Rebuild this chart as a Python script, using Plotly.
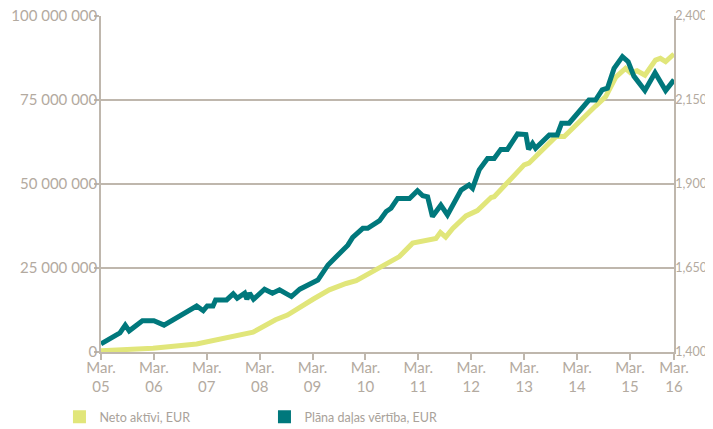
import plotly.graph_objects as go

# x = months since March 2005
plan_months = [0, 4.3, 5.5, 6.4, 9.4, 12, 14.3, 21.7, 23.2, 24.1, 25.4, 26, 28.5, 30, 30.9, 32.6, 33.1,
               33.7, 34.6, 37.1, 38.9, 40.5, 43.2, 45.1, 49.2, 51.5, 56, 57.1, 59.4, 60.5, 63.2, 64.7,
               65.8, 67.3, 70, 71.8, 73, 74.1, 75.2, 77.1, 78.6, 81.7, 83.5, 84.3, 85.8, 87.7, 89.2,
               90.7, 92.2, 94.5, 96.4, 97, 97.9, 98.6, 101.7, 103.5, 104.5, 106.2, 110.7, 112.2, 113.7,
               114.9, 116.4, 118.3, 119.6, 120.9, 123.4, 125.7, 128.1, 130]
plan_value = [1424, 1457, 1480, 1463, 1493, 1493, 1480, 1537, 1523, 1537, 1537, 1555, 1555, 1573, 1560,
              1575, 1557, 1575, 1557, 1587, 1575, 1585, 1565, 1587, 1614, 1659, 1718, 1741, 1768, 1768,
              1791, 1818, 1828, 1857, 1857, 1880, 1865, 1862, 1803, 1837, 1808, 1882, 1897, 1887, 1942,
              1976, 1976, 2003, 2003, 2049, 2047, 2003, 2021, 2006, 2046, 2046, 2081, 2081, 2150, 2150,
              2180, 2185, 2244, 2279, 2264, 2221, 2178, 2231, 2178, 2210]

net_months = [0, 11.8, 21.7, 26.2, 34.5, 39.6, 42.3, 48.1, 51.8, 55.6, 57.9, 67.7, 70.7, 76, 77, 78.2,
              79.8, 82.8, 85.4, 88.5, 89.2, 96, 97.1, 103.2, 105.1, 112.2, 114.5, 116.8, 119, 120.1,
              121.6, 123.4, 125.8, 126.9, 128.1, 130]
net_assets = [0.4, 1.1, 2.4, 3.6, 5.9, 9.6, 11.0, 15.7, 18.5, 20.4, 21.2, 28.4, 32.4, 33.8, 35.6, 34.2,
              36.8, 40.5, 42.1, 46.0, 46.2, 55.7, 56.2, 64.1, 64.1, 73.2, 76.0, 81.8, 84.4, 83.1, 83.7,
              82.4, 86.9, 87.4, 86.4, 88.7]  # millions EUR

x_tickvals = [0, 12, 24, 36, 48, 60, 72, 84, 96, 108, 120, 130]
x_ticktext = ["Mar.<br>05", "Mar.<br>06", "Mar.<br>07", "Mar.<br>08", "Mar.<br>09", "Mar.<br>10",
              "Mar.<br>11", "Mar.<br>12", "Mar.<br>13", "Mar.<br>14", "Mar.<br>15", "Mar.<br>16"]
left_tickvals = [0, 25e6, 50e6, 75e6, 100e6]
left_ticktext = ["0", "25 000 000", "50 000 000", "75 000 000", "100 000 000"]
right_tickvals = [1400, 1650, 1900, 2150, 2400]
right_ticktext = ["1,400", "1,650", "1,900", "2,150", "2,400"]

YELLOW = "#e1e67a"
TEAL = "#00787c"
GRID = "#bfb7ad"
TXT = "#b3aaa0"
FONT = "Lato"

fig = go.Figure()
fig.add_trace(go.Scatter(x=plan_months, y=plan_value, mode="lines", yaxis="y2",
                         line=dict(color=TEAL, width=5), showlegend=False))
fig.add_trace(go.Scatter(x=net_months, y=[v * 1e6 for v in net_assets], mode="lines",
                         line=dict(color=YELLOW, width=5), showlegend=False))
fig.add_trace(go.Scatter(x=[None], y=[None], mode="markers", name="Neto aktīvi, EUR",
                         marker=dict(symbol="square", size=13, color=YELLOW)))
fig.add_trace(go.Scatter(x=[None], y=[None], mode="markers", name="Plāna daļas vērtība, EUR",
                         marker=dict(symbol="square", size=13, color=TEAL)))

# page body has an 8px margin, so the figure is 8px smaller and margins shifted
fig.update_layout(
    width=705, height=421,
    margin=dict(l=93, r=39, t=8, b=77, autoexpand=False),
    paper_bgcolor="white", plot_bgcolor="white",
    font=dict(family=FONT, color=TXT),
    xaxis=dict(range=[0, 130], tickvals=x_tickvals, ticktext=x_ticktext, automargin=False,
               showgrid=False, zeroline=False, showline=True, linecolor=GRID, linewidth=1.5,
               ticks="outside", ticklen=6, tickwidth=1.5, tickcolor=GRID,
               ticklabelstandoff=-5,
               tickfont=dict(size=15, color=TXT, family=FONT)),
    yaxis=dict(range=[0, 100e6], tickvals=left_tickvals, ticktext=left_ticktext, automargin=False,
               showgrid=True, gridcolor=GRID, gridwidth=1.5, zeroline=False,
               showline=True, linecolor=GRID, linewidth=1.5,
               ticks="outside", ticklen=5, tickwidth=1.5, tickcolor=GRID,
               ticklabeloverflow="allow", ticklabelstandoff=-6,
               tickfont=dict(size=15, color=TXT, family=FONT)),
    yaxis2=dict(range=[1400, 2400], tickvals=right_tickvals, ticktext=right_ticktext, automargin=False,
                overlaying="y", side="right", showgrid=False, zeroline=False,
                showline=True, linecolor=GRID, linewidth=1.5, ticks="",
                ticklabeloverflow="allow", ticklabelstandoff=-3,
                tickfont=dict(size=12.5, color=TXT, family=FONT)),
    legend=dict(orientation="h", xref="container", yref="container", x=0.073, y=0.0285,
                xanchor="left", yanchor="middle",
                entrywidth=160, entrywidthmode="pixels",
                font=dict(size=12.5, color="#a9a29a", family=FONT), bgcolor="rgba(0,0,0,0)"),
)

fig.write_html("out.html")
